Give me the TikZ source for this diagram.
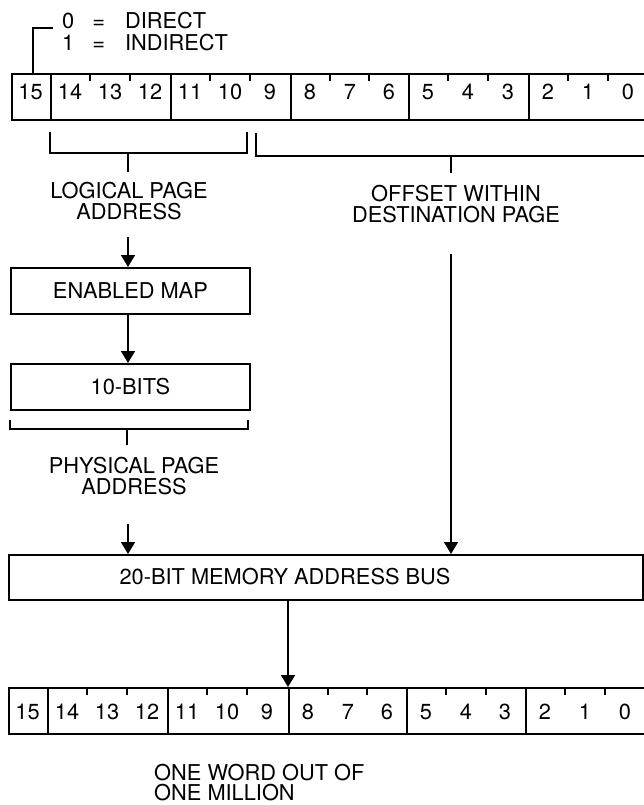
\documentclass[tikz,border=0pt]{standalone}
\usepackage{fontspec}
\setmainfont{TeX Gyre Heros}
\usetikzlibrary{arrows.meta,calc}
\begin{document}
\begin{tikzpicture}[x=1pt,y=-1pt,
  every node/.style={font=\fontsize{21.8}{21}\selectfont, inner sep=0pt},
  grp/.style={draw, line width=1.8pt, minimum height=46pt, anchor=north west},
  blk/.style={draw, line width=1.8pt, minimum height=46pt, anchor=north west},
  ln/.style={line width=1.6pt},
  tick/.style={line width=1.6pt},
  arr/.style={line width=1.6pt, -{Triangle[width=14pt,length=12pt]}},
  lbl/.style={align=center, anchor=north},
]
\useasboundingbox (0,0) rectangle (644,805);

% ---------- top register ----------
\foreach \n/\l/\r in {t15/11/50, ta/50/170, tb/170/290, tc/290/408, td/408/528, te/528/646}
  \node[grp, minimum width=\r-\l] (\n) at (\l,73) {};
\foreach \d/\x in {15/30.5, 14/70, 13/110, 12/150, 11/190, 10/230, 9/270, 8/310, 7/350, 6/389, 5/428, 4/468, 3/508, 2/548, 1/588, 0/628}
  \node (tbit\d) at (\x,92) {\d};
\foreach \x in {90,130,210,250,330,369,448,488,568,608}
  \draw[tick] (\x,73) -- (\x,81);

% legend for bit 15
\node[anchor=north west, font=\fontsize{21.8}{20}\selectfont] (legend) at (62,12)
  {\begin{tabular}{@{}c@{\hspace{18pt}}c@{\hspace{20pt}}l@{}}0&=&DIRECT\\1&=&INDIRECT\end{tabular}};
\coordinate (legpt) at (53,28);
\draw[ln] ([xshift=1.5pt]t15.north) |- (legpt);

% ---------- brackets under top register ----------
\draw[ln] (50,132) -- (50,153) -- (247,153) -- (247,132);
\draw[ln] (256,133) -- (256,156) -- (650,156);
\coordinate (lbr) at (128,153);
\coordinate (obr) at (451,156);

\node[lbl] (lpa) at (129,182) {LOGICAL PAGE\\ADDRESS};
\node[lbl] (ofs) at (456,185) {OFFSET WITHIN\\DESTINATION PAGE};
\draw[ln] (lbr) -- ($(lbr |- lpa.north)+(0,-10)$);
\draw[ln] (obr) -- ($(obr |- ofs.north)+(0,-12)$);

% ---------- map boxes ----------
\node[blk, minimum width=239pt] (em) at (10,267) {ENABLED MAP};
\node[blk, minimum width=239pt] (tbits) at (10,363) {10-BITS};
\draw[arr] ($(lbr |- lpa.south)+(0,17)$) -- (lbr |- em.north);
\draw[arr] (lbr |- em.south) -- (lbr |- tbits.north);

% bracket under 10-BITS
\draw[ln] (10,420) -- (10,429) -- (248,429) -- (248,420);
\coordinate (pbr) at (127,429);
\node[lbl] (ppa) at (134,457) {PHYSICAL PAGE\\ADDRESS};
\draw[ln] (pbr) -- ($(pbr |- ppa.north)+(0,-12)$);

% ---------- bus ----------
\node[blk, minimum width=634pt, minimum height=45pt] (bus) at (8,554) {};
\node (busl) at (285,577) {20-BIT MEMORY ADDRESS BUS};
\draw[arr] ($(128,0 |- ppa.south)+(0,29)$) -- (128,0 |- bus.north);
\draw[arr] ($(obr |- ofs.south)+(0,31)$) -- (obr |- bus.north);

% ---------- bottom register ----------
\foreach \n/\l/\r in {b15/8/47, ba/47/167, bb/167/288, bc/288/406, bd/406/525, be/525/645}
  \node[grp, minimum width=\r-\l] (\n) at (\l,687) {};
\foreach \d/\x in {15/27.5, 14/67, 13/107, 12/147, 11/187, 10/227, 9/267, 8/308, 7/348, 6/387, 5/426, 4/466, 3/505, 2/545, 1/585, 0/625}
  \node (bbit\d) at (\x,712) {\d};
\foreach \x in {87,127,207,247,328,367,446,486,565,605}
  \draw[tick] (\x,687) -- (\x,695);

\draw[arr] (bc.north west |- bus.south) -- (bc.north west);

\node[anchor=north west, align=left, font=\fontsize{21.8}{20}\selectfont] (owl) at (154,764) {ONE WORD OUT OF\\ONE MILLION};
\end{tikzpicture}
\end{document}
